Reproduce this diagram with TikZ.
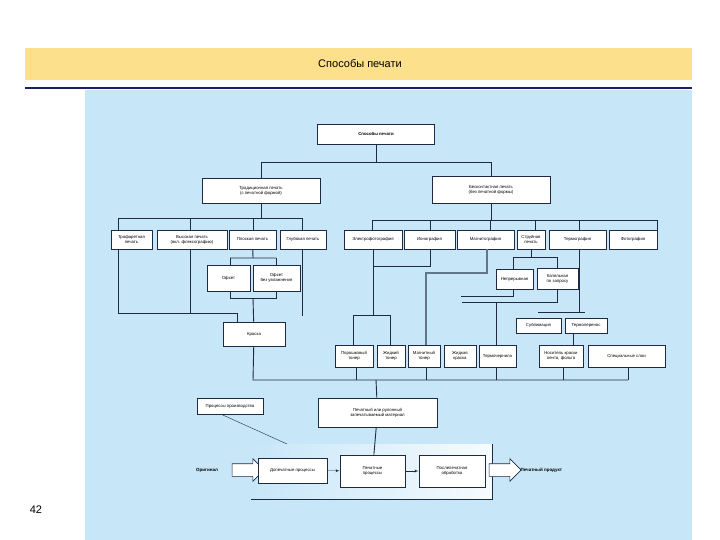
\documentclass[tikz,border=0pt]{standalone}
\usepackage{fontspec}
\setmainfont{Liberation Sans}
\usetikzlibrary{shapes,arrows,positioning}
\definecolor{panel}{HTML}{C7E6F8}
\definecolor{bar}{HTML}{FCE08C}
\definecolor{ink}{HTML}{1E2A44}
\begin{document}
\begin{tikzpicture}[x=1pt, y=-1pt, >=latex']
  \tikzstyle{box} = [draw=ink, fill=white, line width=0.9pt, inner sep=1pt, align=center, font=\fontsize{4.3}{5}\selectfont]
  \tikzstyle{wire} = [draw=ink, line width=0.9pt]
  \tikzstyle{fat} = [draw=ink!60!panel, line width=2pt]
  \tikzstyle{hollow} = [single arrow, draw=ink, fill=white, line width=0.6pt, minimum height=32pt, inner xsep=0pt, inner ysep=6pt, single arrow head extend=5pt]
  \useasboundingbox (0,0) rectangle (720,540);
  \fill[white] (0,0) rectangle (720,540);
  % header
  \fill[bar] (25,48) rectangle (692,80);
  \node (title) at (360,64) {\fontsize{11}{13}\selectfont Способы печати};
  \draw[ink!80!blue, line width=1.2pt] (25,88) -- (692,88);
  \fill[panel] (85,90) rectangle (692,540);
  \node (page) at (36,510) {\fontsize{11}{13}\selectfont 42};
  % top
  \node[box, minimum width=117pt, minimum height=20pt, font=\fontsize{4.3}{5}\bfseries] (root) at (376,134) {Способы печати};
  \node[box, minimum width=118pt, minimum height=25pt] (trad) at (261,191) {Традиционная печать\\(с печатной формой)};
  \node[box, minimum width=118pt, minimum height=27pt] (bez) at (491,190) {Бесконтактная печать\\(без печатной формы)};
  % traditional row
  \node[box, minimum width=41pt, minimum height=19pt] (traf) at (131.5,239.5) {Трафаретная\\печать};
  \node[box, minimum width=70pt, minimum height=19pt] (vys) at (192,239.5) {Высокая печать\\(вкл. флексографию)};
  \node[box, minimum width=47pt, minimum height=19pt] (plos) at (252.5,239.5) {Плоская печать};
  \node[box, minimum width=46pt, minimum height=19pt] (glub) at (303,239.5) {Глубокая печать};
  \node[box, minimum width=43pt, minimum height=26pt] (ofs) at (228.5,278) {Офсет};
  \node[box, minimum width=47pt, minimum height=26pt] (ofsb) at (276.5,278) {Офсет\\без увлажнения};
  \node[box, minimum width=62pt, minimum height=24pt] (kras) at (254,334) {Краска};
  % non-impact row
  \node[box, minimum width=58pt, minimum height=19pt] (elfo) at (373,239.5) {Электрофотография};
  \node[box, minimum width=51pt, minimum height=19pt] (iono) at (429.5,239.5) {Ионография};
  \node[box, minimum width=57pt, minimum height=19pt] (magn) at (485.5,239.5) {Магнитография};
  \node[box, minimum width=28pt, minimum height=19pt] (stru) at (531,239.5) {Струйная\\печать};
  \node[box, minimum width=57pt, minimum height=19pt] (term) at (577.5,239.5) {Термография};
  \node[box, minimum width=48pt, minimum height=19pt] (foto) at (633,239.5) {Фотография};
  \node[box, minimum width=37pt, minimum height=20pt] (nepr) at (514.5,279) {Непрерывная};
  \node[box, minimum width=41pt, minimum height=21pt] (kap) at (557.5,278.5) {Капельная\\по запросу};
  \node[box, minimum width=45pt, minimum height=15pt] (subl) at (538.5,325.5) {Сублимация};
  \node[box, minimum width=42pt, minimum height=15pt] (perenos) at (586,325.5) {Термоперенос};
  % media row
  \node[box, minimum width=38pt, minimum height=22pt] (poro) at (354,356) {Порошковый\\тонер};
  \node[box, minimum width=28pt, minimum height=22pt] (zhton) at (391,356) {Жидкий\\тонер};
  \node[box, minimum width=32pt, minimum height=22pt] (mton) at (424,356) {Магнитный\\тонер};
  \node[box, minimum width=32pt, minimum height=22pt] (zhkr) at (460,356) {Жидкая\\краска};
  \node[box, minimum width=37pt, minimum height=22pt] (chern) at (497.5,356) {Термочернила};
  \node[box, minimum width=44pt, minimum height=22pt] (nosit) at (561,356) {Носитель краски\\лента, фольга};
  \node[box, minimum width=77pt, minimum height=22pt] (spec) at (626.5,356) {Специальные слои};
  % production
  \node[box, minimum width=119pt, minimum height=29pt] (mat) at (377.5,412.5) {Печатный или рулонный\\запечатываемый материал};
  \node[box, minimum width=66pt, minimum height=16pt] (proiz) at (230,406) {Процессы производства};
  \shade[left color=panel, right color=white!85!panel] (251,444) rectangle (492,498);
  \draw[wire] (492,444) -- (492,499) -- (251,499);
  \node[hollow] (inarr) at (245,470) {};
  \node[box, minimum width=69pt, minimum height=25pt] (pre) at (292.5,470.5) {Допечатные процессы};
  \node[box, minimum width=65pt, minimum height=32pt] (print) at (372.5,471) {Печатные\\процессы};
  \node[box, minimum width=66pt, minimum height=32pt] (post) at (452,471) {Послепечатная\\обработка};
  \node[font=\fontsize{4.5}{5}\bfseries] (orig) at (207,470) {Оригинал};
  \node[hollow] (outarr) at (502,470) {};
  \node[font=\fontsize{4.5}{5}\bfseries, anchor=west] (prod) at (517,470) {Печатный продукт};
  \coordinate (diag) at (287,444);
  \coordinate (glubend) at (302,316);
  % connectors
  \draw[wire] (root) -- (376,162) -| (trad);
  \draw[wire] (376,162) -| (bez);
  \draw[wire] (trad) -- (261,218);
  \draw[wire] (118,218) -- (302,218);
  \foreach \n/\x in {traf/118, vys/190, plos/253, glub/302} \draw[wire] (\x,218) -- (\n.north -| \x,0);
  \draw[wire] (bez) -- (491,220);
  \draw[wire] (372,220) -- (657,220);
  \foreach \n/\x in {elfo/372, iono/430, magn/490, stru/535, term/579, foto/657} \draw[wire] (\x,220) -- (\n.north -| \x,0);
  \draw[wire] (plos) -- (253,258) (230,258) -- (276,258);
  \draw[wire] (230,258) -- (ofs.north -| 230,0) (276,258) -- (ofsb.north -| 276,0);
  \draw[wire] (ofs.south -| 230,0) -- (230,298) -- (276,298) -- (ofsb.south -| 276,0);
  \draw[wire] (253,298) -- (kras);
  \draw[wire] (traf.south -| 118,0) -- (118,313) -| (kras.north -| 237,0);
  \draw[wire] (vys.south -| 190,0) -- (190,313);
  \draw[wire] (glub.south -| 302,0) -- (glubend);
  \draw[wire] (kras) -- (253,380) -- (628,380);
  \draw[wire] (elfo.south -| 373,0) -- (373,315) (353,315) -- (390,315);
  \draw[wire] (430,249) -- (430,266) -- (373,266);
  \draw[wire] (353,315) -- (poro.north -| 353,0) (390,315) -- (zhton.north -| 390,0);
  \draw[fat] (magn.south -| 487,0) -- (487,273) -- (426,273) -- (mton.north -| 426,0);
  \draw[wire] (stru) -- (531,257) (513,257) -- (557,257);
  \draw[wire] (513,257) -- (nepr.north -| 513,0) (557,257) -- (kap.north -| 557,0);
  \draw[wire] (nepr.south -| 513,0) -- (513,296) -- (461,296);
  \draw[wire] (kap.south -| 557,0) -- (557,302) -- (462,302);
  \draw[wire] (496,302) -- (chern.north -| 496,0);
  \draw[wire] (term.south -| 579,0) -- (579,312) (538,312) -- (585,312);
  \draw[wire] (perenos.south -| 573,0) -- (nosit.north -| 573,0);
  \foreach \n/\x in {poro/356, mton/426, chern/496, nosit/563, spec/628} \draw[wire] (\n.south -| \x,0) -- (\x,380);
  \draw[wire] (376,380) -- (mat);
  \draw[ink, line width=0.4pt] (proiz.south west) ++(25,0) -- (diag);
  \draw[wire] (mat) -- (print);
  \draw[->, ink, line width=0.4pt] (pre) -- (print);
  \draw[->, ink, line width=0.4pt] (print) -- (post);
\end{tikzpicture}
\end{document}
